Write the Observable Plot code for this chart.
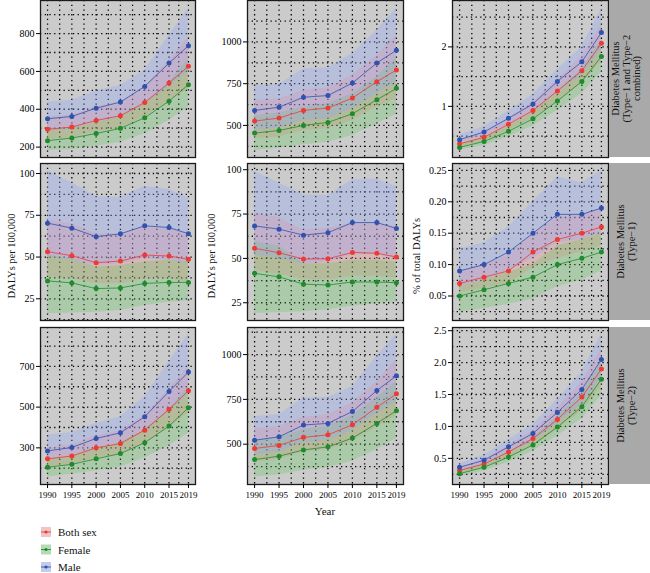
<!DOCTYPE html>
<html><head><meta charset="utf-8">
<script src="https://cdn.jsdelivr.net/npm/d3@7"></script>
<script src="https://cdn.jsdelivr.net/npm/@observablehq/plot@0.6"></script>
<style>
body{margin:0;background:#fff;}
#chart{position:relative;width:650px;height:573px;overflow:hidden;font-family:"Liberation Serif","DejaVu Serif",serif;}
.pnl{position:absolute;}
#overlay{position:absolute;left:0;top:0;}
</style></head><body><div id="chart"></div>
<script>
// ---------- data ----------
const years = [1990, 1995, 2000, 2005, 2010, 2015, 2019];
const xTicks = [1990, 1995, 2000, 2005, 2010, 2015, 2019];
const xMinor = [1992.5, 1997.5, 2002.5, 2007.5, 2012.5, 2017];
const sexes = ["Both sex", "Female", "Male"];
const rowLabels = [
  ["Diabetes Mellitus", "(Type\u22121 and Type\u22122", "combined)"],
  ["Diabetes Mellitus", "(Type\u22121)"],
  ["Diabetes Mellitus", "(Type\u22122)"]
];
const yTitles = ["DALYs per 100,000", "DALYs per 100,000", "% of total DALYs"];
const xTitle = "Year";

// Row 1: Type-1 and Type-2 combined
const combinedC1 = {
  both: [294, 306, 341, 366, 436, 539, 627], bothLo: [240, 250, 280, 300, 360, 440, 510], bothHi: [360, 370, 410, 440, 520, 660, 780],
  female: [234, 248, 272, 299, 355, 443, 530], femaleLo: [182, 187, 205, 225, 270, 340, 410], femaleHi: [290, 300, 330, 360, 430, 540, 670],
  male: [350, 362, 406, 438, 521, 644, 736], maleLo: [285, 295, 330, 355, 425, 520, 600], maleHi: [438, 448, 496, 526, 606, 791, 932]
};
const combinedC2 = {
  both: [526, 544, 590, 604, 664, 762, 832], bothLo: [420, 430, 470, 480, 530, 610, 660], bothHi: [650, 660, 710, 725, 800, 920, 1040],
  female: [454, 470, 500, 518, 570, 654, 722], femaleLo: [350, 365, 385, 400, 440, 510, 565], femaleHi: [560, 575, 610, 630, 690, 790, 905],
  male: [590, 609, 669, 679, 754, 874, 950], maleLo: [470, 485, 530, 540, 600, 690, 760], maleHi: [740, 745, 840, 845, 930, 1070, 1200]
};
const combinedC3 = {
  both: [0.37, 0.48, 0.70, 0.93, 1.26, 1.60, 2.06], bothLo: [0.31, 0.41, 0.60, 0.80, 1.08, 1.38, 1.76], bothHi: [0.44, 0.56, 0.80, 1.07, 1.45, 1.84, 2.38],
  female: [0.31, 0.41, 0.58, 0.79, 1.09, 1.42, 1.84], femaleLo: [0.26, 0.34, 0.49, 0.67, 0.93, 1.21, 1.58], femaleHi: [0.37, 0.48, 0.67, 0.90, 1.25, 1.63, 2.12],
  male: [0.44, 0.57, 0.80, 1.04, 1.42, 1.75, 2.24], maleLo: [0.38, 0.50, 0.70, 0.90, 1.24, 1.52, 1.94], maleHi: [0.52, 0.66, 0.92, 1.20, 1.62, 2.00, 2.64]
};
// Row 2: Type-1
const type1C1 = {
  both: [53.2, 50.8, 46.6, 47.6, 51.2, 50.6, 48.6], bothLo: [38, 37, 34, 34, 37, 37, 35], bothHi: [72, 70, 64, 64, 68, 67, 65],
  female: [35.7, 34.5, 31.1, 31.5, 34.2, 34.8, 34.8], femaleLo: [16, 16.5, 17, 18, 21, 23, 24], femaleHi: [51, 49, 44, 45, 47, 48, 47],
  male: [70.3, 67.3, 62.2, 63.9, 68.7, 67.7, 63.9], maleLo: [50, 48, 45, 46, 49, 48, 46], maleHi: [101.4, 94.4, 86.3, 85.7, 92.4, 90.4, 85.4]
};
const type1C2 = {
  both: [55.7, 53.2, 49.6, 49.8, 53.4, 52.9, 50.8], bothLo: [43, 41, 38, 38, 40, 40, 39], bothHi: [75.5, 73, 66, 67, 70, 70, 68],
  female: [41.6, 39.6, 35.5, 35, 36.7, 36.7, 36.3], femaleLo: [19, 19.5, 20, 21, 23, 24.5, 25.5], femaleHi: [59.5, 57, 47, 47, 49, 49, 48],
  male: [68.3, 66.5, 63.1, 64.5, 70.2, 70.2, 66.9], maleLo: [52, 50, 47, 48, 52, 52, 50], maleHi: [99, 92.5, 85.9, 85.5, 94.3, 94.7, 90.6]
};
const type1C3 = {
  both: [0.07, 0.08, 0.09, 0.12, 0.14, 0.15, 0.16], bothLo: [0.055, 0.062, 0.07, 0.095, 0.11, 0.12, 0.13], bothHi: [0.09, 0.10, 0.115, 0.15, 0.175, 0.18, 0.19],
  female: [0.05, 0.06, 0.07, 0.08, 0.10, 0.11, 0.12], femaleLo: [0.024, 0.03, 0.037, 0.045, 0.065, 0.075, 0.09], femaleHi: [0.065, 0.075, 0.088, 0.10, 0.13, 0.14, 0.15],
  male: [0.09, 0.10, 0.12, 0.15, 0.18, 0.18, 0.19], maleLo: [0.065, 0.075, 0.09, 0.11, 0.135, 0.14, 0.15], maleHi: [0.125, 0.135, 0.16, 0.20, 0.24, 0.23, 0.25]
};
// Row 3: Type-2
const type2C1 = {
  both: [246, 260, 300, 321, 387, 489, 581], bothLo: [205, 218, 250, 268, 320, 400, 470], bothHi: [300, 315, 360, 385, 460, 590, 700],
  female: [205, 219, 246, 272, 325, 407, 497], femaleLo: [157, 170, 188, 205, 250, 310, 371], femaleHi: [245, 260, 295, 325, 390, 490, 600],
  male: [285, 302, 346, 374, 453, 577, 672], maleLo: [245, 260, 295, 320, 385, 480, 560], maleHi: [363, 375, 420, 453, 552, 725, 857]
};
const type2C2 = {
  both: [476, 493, 538, 552, 608, 706, 781], bothLo: [400, 415, 455, 470, 515, 595, 660], bothHi: [588, 600, 650, 665, 730, 850, 972],
  female: [414, 433, 468, 485, 534, 616, 687], femaleLo: [316, 330, 355, 370, 405, 470, 532], femaleHi: [520, 540, 580, 600, 660, 760, 850],
  male: [522, 541, 607, 616, 682, 799, 882], maleLo: [440, 455, 510, 520, 575, 670, 740], maleHi: [653, 665, 757, 760, 822, 991, 1112]
};
const type2C3 = {
  both: [0.31, 0.41, 0.60, 0.81, 1.11, 1.46, 1.90], bothLo: [0.26, 0.35, 0.51, 0.69, 0.95, 1.24, 1.62], bothHi: [0.37, 0.48, 0.70, 0.94, 1.29, 1.70, 2.22],
  female: [0.26, 0.36, 0.52, 0.71, 0.99, 1.31, 1.74], femaleLo: [0.21, 0.30, 0.44, 0.61, 0.85, 1.12, 1.48], femaleHi: [0.31, 0.42, 0.60, 0.82, 1.15, 1.52, 2.02],
  male: [0.36, 0.47, 0.68, 0.89, 1.22, 1.58, 2.05], maleLo: [0.30, 0.40, 0.58, 0.76, 1.05, 1.35, 1.75], maleHi: [0.42, 0.55, 0.79, 1.03, 1.42, 1.85, 2.45]
};

// y ticks per panel
const yTicks = [
  [[200, 400, 600, 800], [500, 750, 1000], [1, 2]],
  [[25, 50, 75, 100], [25, 50, 75, 100], [0.05, 0.10, 0.15, 0.20, 0.25]],
  [[300, 500, 700], [500, 750, 1000], [0.5, 1.0, 1.5, 2.0, 2.5]]
];
const yDomains = [
  [[145, 975], [308, 1248], [0.14, 2.78]],
  [[12, 106], [15, 103.5], [0.011, 0.261]],
  [[120, 891], [275, 1151], [0.09, 2.55]]
];
const yFormats = [
  [".0f", ".0f", ".0f"],
  [".0f", ".0f", ".2f"],
  [".0f", ".0f", ".1f"]
];
const panels = [
  [combinedC1, combinedC2, combinedC3],
  [type1C1, type1C2, type1C3],
  [type2C1, type2C2, type2C3]
];

// ---------- styles / layout ----------
const keys = {"Both sex": "both", "Female": "female", "Male": "male"};
const lineColor = {"Both sex": "#ee3a33", "Female": "#1f8c2c", "Male": "#2f52b0"};
const bandColor = {"Both sex": "#ff8080", "Female": "#4cc84c", "Male": "#8aa6ff"};
const bandOpacity = {"Both sex": 0.26, "Female": 0.26, "Male": 0.3};
const keyFill = {"Both sex": "#efc6c6", "Female": "#b6dab6", "Male": "#c3cbea"};
const colLeft = [40, 247, 452];
const colWidth = [155, 156, 156];
const rowTop = [0, 163, 327];
const rowHeight = [157, 157, 157];
const mL = 40, mT = 2, mR = 2;

const chart = document.getElementById("chart");

function minorTicks(t, dom) {
  const step = t.length > 1 ? t[1] - t[0] : 1;
  const out = [];
  for (let v = t[0] - step / 2; v <= dom[1]; v += step) {
    if (v >= dom[0] && v <= dom[1]) out.push(+v.toFixed(6));
  }
  return out;
}

for (let r = 0; r < 3; r++) {
  for (let c = 0; c < 3; c++) {
    const P = panels[r][c];
    const rows = [];
    for (const s of sexes) {
      const k = keys[s];
      years.forEach((yr, i) => rows.push({sex: s, year: yr, v: P[k][i], lo: P[k + "Lo"][i], hi: P[k + "Hi"][i]}));
    }
    const dom = yDomains[r][c];
    const ticks = yTicks[r][c];
    const yGrid = ticks.concat(minorTicks(ticks, dom));
    const bottom = r === 2;
    const mB = bottom ? 28 : 2;
    const marks = [
      Plot.frame({fill: "#cbcbcb"}),
      Plot.ruleX(xTicks.concat(xMinor), {stroke: "#000", strokeWidth: 1.3, strokeDasharray: "1.3,3.4"}),
      Plot.ruleY(yGrid, {stroke: "#000", strokeWidth: 1.3, strokeDasharray: "1.3,3.4"})
    ];
    for (const s of sexes) {
      marks.push(Plot.areaY(rows.filter(d => d.sex === s), {x: "year", y1: "lo", y2: "hi", fill: bandColor[s], fillOpacity: bandOpacity[s]}));
    }
    for (const s of sexes) {
      marks.push(Plot.lineY(rows.filter(d => d.sex === s), {x: "year", y: "v", stroke: lineColor[s], strokeWidth: 0.8}));
      marks.push(Plot.dot(rows.filter(d => d.sex === s), {x: "year", y: "v", fill: lineColor[s], r: 2.5}));
    }
    marks.push(Plot.frame({stroke: "#1a1a1a", strokeWidth: 1.3}));
    marks.push(Plot.axisY(ticks, {tickSize: 4, tickPadding: 2, tickFormat: d3.format(yFormats[r][c]), fontSize: 10, label: null}));
    if (bottom) marks.push(Plot.axisX(xTicks, {tickSize: 4, tickPadding: 3, tickFormat: d => String(d), fontSize: 9, label: null}));
    const plot = Plot.plot({
      width: mL + colWidth[c] + mR,
      height: mT + rowHeight[r] + mB,
      marginLeft: mL, marginRight: mR, marginTop: mT, marginBottom: mB,
      x: {domain: [1988.55, 2020.45], axis: bottom ? undefined : null},
      y: {domain: dom},
      style: {fontFamily: "'Liberation Serif', 'DejaVu Serif', serif", color: "#000", background: "transparent", overflow: "visible"},
      marks
    });
    plot.classList.add("pnl");
    plot.style.left = (colLeft[c] - mL) + "px";
    plot.style.top = (rowTop[r] - mT) + "px";
    chart.appendChild(plot);
  }
}

// ---------- overlay: strips, axis titles, legend ----------
const svg = d3.select(chart).append("svg").attr("id", "overlay")
  .attr("width", 650).attr("height", 573)
  .style("font-family", "'Liberation Serif', 'DejaVu Serif', serif");

rowLabels.forEach((lines, r) => {
  svg.append("rect").attr("x", 609).attr("y", rowTop[r]).attr("width", 41).attr("height", rowHeight[r]).attr("fill", "#a9a9a9");
  const g = svg.append("g").attr("transform", `translate(626,${rowTop[r] + rowHeight[r] / 2}) rotate(-90)`);
  lines.forEach((t, i) => {
    g.append("text").attr("x", 0).attr("y", (i - (lines.length - 1) / 2) * 10.5)
      .attr("text-anchor", "middle").attr("dominant-baseline", "central")
      .attr("font-size", 10.5).attr("fill", "#111").text(t);
  });
});

const titleX = [11, 211, 416];
yTitles.forEach((t, c) => {
  svg.append("text").attr("transform", `translate(${titleX[c]},256) rotate(-90)`)
    .attr("text-anchor", "middle").attr("dominant-baseline", "central")
    .attr("font-size", 10.5).attr("fill", "#111").text(t);
});
svg.append("text").attr("x", 325).attr("y", 511).attr("text-anchor", "middle")
  .attr("dominant-baseline", "central").attr("font-size", 11).attr("fill", "#111").text(xTitle);

sexes.forEach((s, i) => {
  const cy = 532 + i * 17.5;
  svg.append("rect").attr("x", 41).attr("y", cy - 5).attr("width", 10).attr("height", 10).attr("fill", keyFill[s]);
  svg.append("line").attr("x1", 41).attr("x2", 51).attr("y1", cy).attr("y2", cy).attr("stroke", lineColor[s]).attr("stroke-width", 0.9);
  svg.append("circle").attr("cx", 46).attr("cy", cy).attr("r", 1.6).attr("fill", lineColor[s]);
  svg.append("text").attr("x", 58).attr("y", cy).attr("dominant-baseline", "central")
    .attr("font-size", 11).attr("fill", "#111").text(s);
});
</script></body></html>
